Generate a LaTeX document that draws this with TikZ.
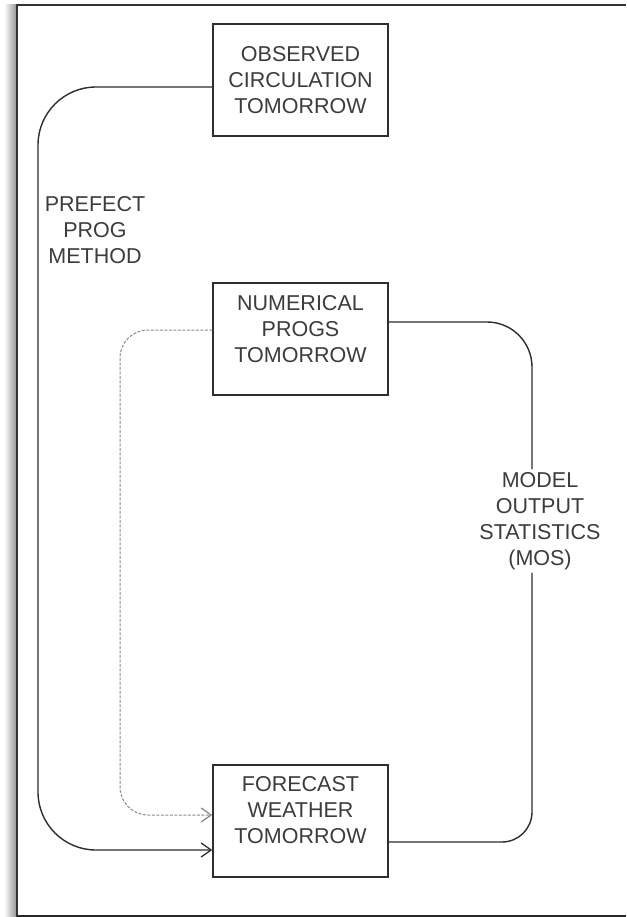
\documentclass[tikz,border=0pt]{standalone}
\usepackage{fontspec}
\setmainfont{Liberation Sans}
\usetikzlibrary{calc,arrows.meta}
\definecolor{linec}{HTML}{2E2E2E}
\definecolor{txtc}{HTML}{3C3C3C}
\begin{document}
\begin{tikzpicture}[x=1pt,y=-1pt,
  box/.style={draw=linec, line width=1.5pt, minimum width=175pt, minimum height=112pt, inner sep=0pt, align=center, text=txtc, font=\fontsize{21.5}{26}\selectfont},
  lbl/.style={align=center, text=txtc, font=\fontsize{21.5}{26}\selectfont, inner sep=3pt},
  conn/.style={draw=linec, line width=1.4pt},
  dconn/.style={draw=gray!90, line width=1pt, dash pattern=on 3pt off 1.5pt},
  arr/.style={-{Straight Barb[length=10pt,width=14pt,line width=1.3pt]}}
]
\useasboundingbox (0,0) rectangle (626,917);
\fill[white] (0,0) rectangle (626,917);
% frame
\shade[left color=white, right color=gray!80] (4,5) rectangle (16,917);
\draw[line width=1.5pt, black!80] (17,917) -- (17,5) -- (626,5);
\draw[line width=1.6pt, black!85] (17,916) -- (626,916);

% boxes
\node[box] (obs) at (300.5,80) {OBSERVED\\CIRCULATION\\TOMORROW};
\node[box, text depth=21pt] (num) at (300.5,339) {NUMERICAL\\PROGS\\TOMORROW};
\node[box, text depth=22pt] (fc) at (300.5,821) {FORECAST\\WEATHER\\TOMORROW};

% labels
\node[lbl] (ppm) at (95,230) {PREFECT\\PROG\\METHOD};
\node[lbl] (mos) at (540,521) {MODEL\\OUTPUT\\STATISTICS\\(MOS)};

% helper coordinates
\coordinate (lx) at (38,0);
\coordinate (dx) at (120,0);
\coordinate (rx) at (532,0);
\coordinate (o1) at ($(obs.west)+(0,7)$);
\coordinate (f1) at ($(fc.west)+(0,29)$);
\coordinate (n1) at ($(num.west)+(0,-9)$);
\coordinate (f2) at ($(fc.west)+(0,-6)$);
\coordinate (n2) at ($(num.east)+(0,-17)$);
\coordinate (f3) at ($(fc.east)+(0,21)$);

% perfect prog connector
\draw[conn,arr,rounded corners=58pt] (o1) -- (o1 -| lx) -- (f1 -| lx) -- (f1);
% dashed connector
\draw[dconn,arr,rounded corners=28pt] (n1) -- (n1 -| dx) -- (f2 -| dx) -- (f2);
% MOS connector
\draw[conn,rounded corners=45pt] (n2) -- (n2 -| rx) -- (mos.north -| rx);
\draw[conn,rounded corners=30pt] (mos.south -| rx) -- (f3 -| rx) -- (f3);
\end{tikzpicture}
\end{document}
